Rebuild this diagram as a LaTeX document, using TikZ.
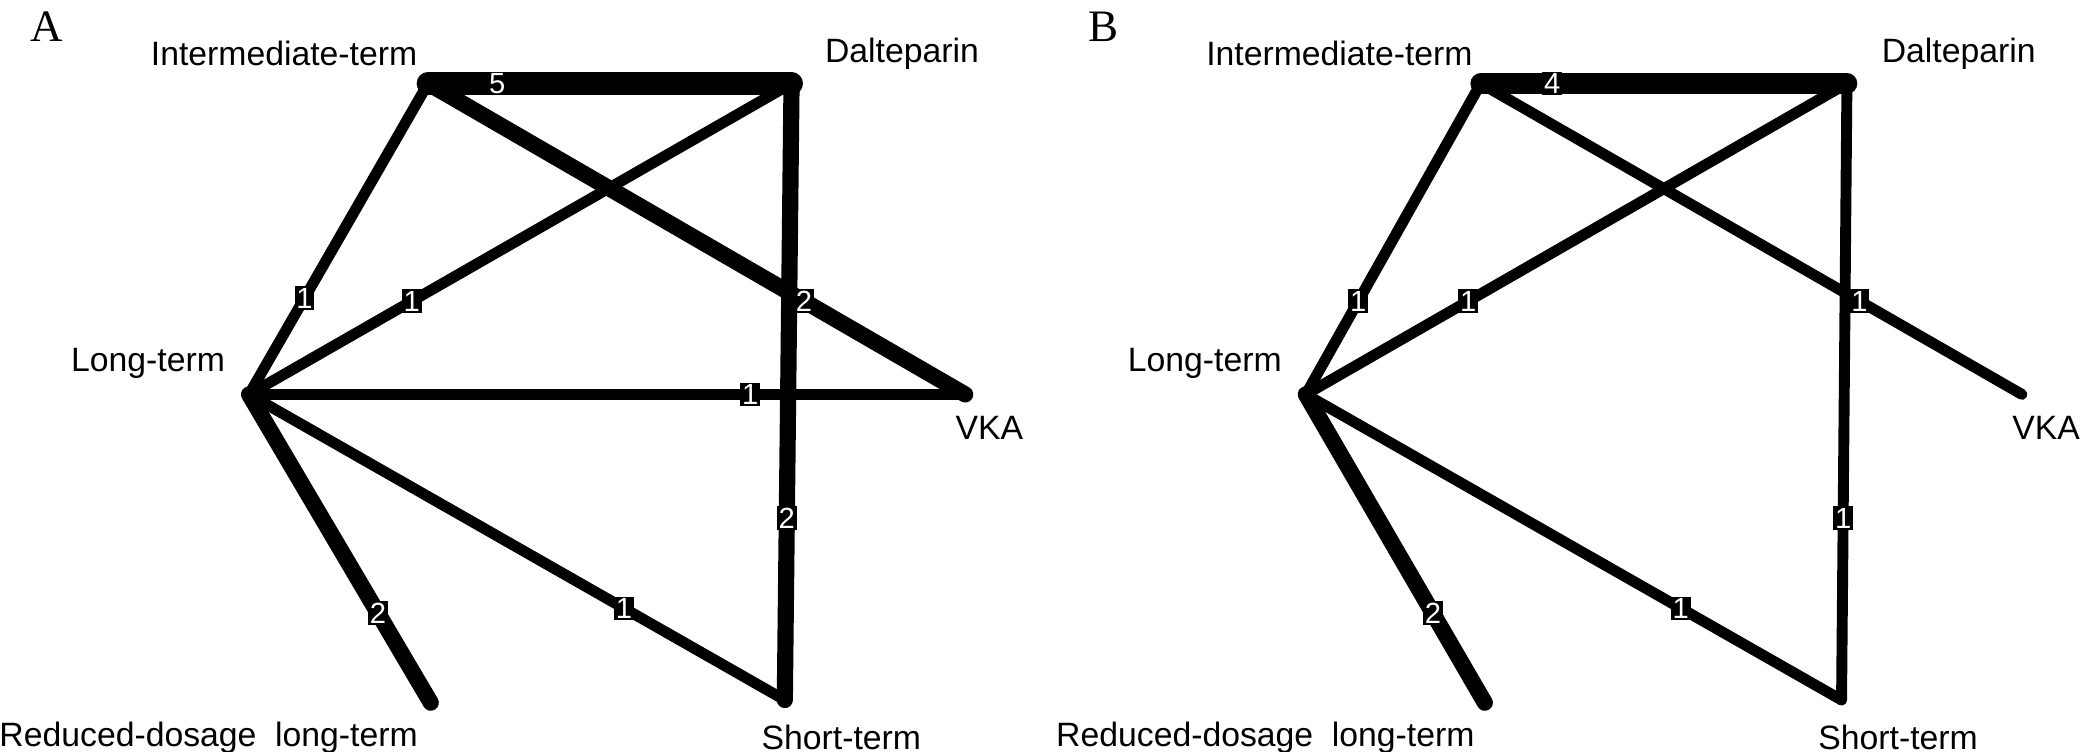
\documentclass[tikz,border=0pt]{standalone}
\usepackage{fontspec}
\setmainfont{Liberation Sans}
\newfontfamily\tnr{Liberation Serif}
\begin{document}
\begin{tikzpicture}[x=0.013462cm,y=-0.013462cm,
  e1/.style={line width=3.1pt,line cap=round},
  e2/.style={line width=4.6pt,line cap=round},
  e4/.style={line width=5.9pt,line cap=round},
  e5/.style={line width=6.5pt,line cap=round},
  el/.style={text=white,fill=black,font=\fontsize{8.3}{9}\selectfont,inner sep=0.5pt},
  nl/.style={font=\fontsize{9.6}{11}\selectfont,inner sep=0pt},
  pl/.style={font=\tnr\fontsize{12.8}{14}\selectfont,inner sep=0pt}]
\useasboundingbox (0,0) rectangle (1560,558);
% Panel A
\node[pl] (pA) at (35,20) {A};
\coordinate (ai) at (318,62);
\coordinate (ad) at (588,62);
\coordinate (al) at (185,293);
\coordinate (av) at (717,293);
\coordinate (ar) at (320,522);
\coordinate (as) at (583,520);
\draw[e5] (ai) -- node[el,pos=0.19]{5} (ad);
\draw[e1] (ai) -- node[el,pos=0.69]{1} (al);
\draw[e1] (ad) -- node[el,pos=0.70]{1} (al);
\draw[e1] (al) -- node[el,pos=0.70]{1} (av);
\draw[e1] (al) -- node[el,pos=0.70]{1} (as);
\draw[e2] (ad) -- node[el,pos=0.705]{2} (as);
\draw[e2] (ai) -- node[el,pos=0.70]{2} (av);
\draw[e2] (al) -- node[el,pos=0.71]{2} (ar);
\node[nl] (tai) at (211,40) {Intermediate-term};
\node[nl] (tad) at (670,40) {Dalteparin};
\node[nl] (tal) at (110,270) {Long-term};
\node[nl] (tav) at (735,318) {VKA};
\node[nl] (tar) at (155,548) {Reduced-dosage\ \ long-term};
\node[nl] (tas) at (625,548) {Short-term};
% Panel B
\node[pl] (pB) at (820,20) {B};
\coordinate (bi) at (1100,62);
\coordinate (bd) at (1372,62);
\coordinate (bl) at (970,293);
\coordinate (bv) at (1502,293);
\coordinate (br) at (1103,522);
\coordinate (bs) at (1368,520);
\draw[e4] (bi) -- node[el,pos=0.195]{4} (bd);
\draw[e1] (bi) -- node[el,pos=0.70]{1} (bl);
\draw[e1] (bd) -- node[el,pos=0.70]{1} (bl);
\draw[e1] (bi) -- node[el,pos=0.70]{1} (bv);
\draw[e1] (bl) -- node[el,pos=0.70]{1} (bs);
\draw[e1] (bd) -- node[el,pos=0.705]{1} (bs);
\draw[e2] (bl) -- node[el,pos=0.71]{2} (br);
\node[nl] (tbi) at (995,40) {Intermediate-term};
\node[nl] (tbd) at (1455,40) {Dalteparin};
\node[nl] (tbl) at (895,270) {Long-term};
\node[nl] (tbv) at (1520,318) {VKA};
\node[nl] (tbr) at (940,548) {Reduced-dosage\ \ long-term};
\node[nl] (tbs) at (1410,548) {Short-term};
\end{tikzpicture}
\end{document}
